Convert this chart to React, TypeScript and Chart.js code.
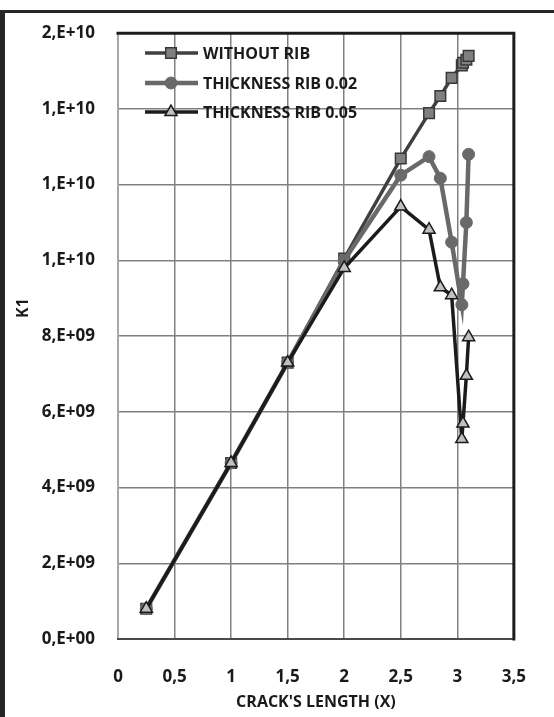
import React, { useEffect, useRef } from 'react';
import { Chart, registerables } from 'chart.js';

Chart.register(...registerables);

// ---- Data ----
const xValues = [0.25, 1, 1.5, 2, 2.5, 2.75, 2.85, 2.95, 3.04, 3.05, 3.08, 3.1];
const withoutRib = [0.8e9, 4.65e9, 7.3e9, 10.05e9, 12.69e9, 13.89e9, 14.34e9, 14.82e9, 15.15e9, 15.22e9, 15.3e9, 15.4e9];
const rib002 = [0.8e9, 4.65e9, 7.3e9, 10.0e9, 12.25e9, 12.74e9, 12.17e9, 10.48e9, 8.83e9, 9.38e9, 11.0e9, 12.8e9];
const rib005 = [0.8e9, 4.65e9, 7.3e9, 9.8e9, 11.42e9, 10.81e9, 9.29e9, 9.08e9, 5.28e9, 5.69e9, 6.95e9, 7.97e9];
const seriesNames = ['WITHOUT RIB', 'THICKNESS RIB 0.02', 'THICKNESS RIB 0.05'];
const xAxisTitle = "CRACK'S LENGTH (X)";
const yAxisTitle = 'K1';
const xMin = 0, xMax = 3.5, xStep = 0.5;
const yMin = 0, yMax = 1.6e10, yStep = 2e9;

const FONT = '"Open Sans", "DejaVu Sans", sans-serif';
const TEXT = '#1a1a1a';

function excelSci(v: number): string {
  if (v === 0) return '0,E+00';
  let e = Math.floor(Math.log10(Math.abs(v)) + 1e-9);
  let m = Math.round(v / Math.pow(10, e));
  if (m >= 10) { m = 1; e++; }
  return `${m},E${e >= 0 ? '+' : '-'}${String(Math.abs(e)).padStart(2, '0')}`;
}

function toPoints(ys: number[]) {
  return xValues.map((x, i) => ({ x, y: ys[i] }));
}

function drawMarker(ctx: CanvasRenderingContext2D, style: string, x: number, y: number, r: number, fill: string, stroke: string, lw: number) {
  ctx.save();
  ctx.beginPath();
  if (style === 'rect') {
    const s = Math.SQRT1_2 * r;
    ctx.rect(x - s, y - s, 2 * s, 2 * s);
  } else if (style === 'circle') {
    ctx.arc(x, y, r, 0, Math.PI * 2);
  } else {
    const a = -Math.PI / 2;
    for (let k = 0; k < 3; k++) {
      const ang = a + (k * 2 * Math.PI) / 3;
      const px = x + Math.cos(ang) * r;
      const py = y + Math.sin(ang) * r;
      if (k === 0) ctx.moveTo(px, py); else ctx.lineTo(px, py);
    }
    ctx.closePath();
  }
  ctx.fillStyle = fill;
  ctx.fill();
  ctx.lineWidth = lw;
  ctx.strokeStyle = stroke;
  ctx.stroke();
  ctx.restore();
}

const plotFramePlugin = {
  id: 'plotFrame',
  beforeDatasetsDraw(chart: any) {
    const { ctx, chartArea: a } = chart;
    ctx.save();
    ctx.lineCap = 'square';
    ctx.strokeStyle = '#a8a8a8';
    ctx.lineWidth = 2;
    ctx.beginPath(); ctx.moveTo(a.left, a.top); ctx.lineTo(a.left, a.bottom); ctx.stroke();
    ctx.strokeStyle = '#4a4a4a';
    ctx.lineWidth = 2;
    ctx.beginPath(); ctx.moveTo(a.left, a.bottom); ctx.lineTo(a.right, a.bottom); ctx.stroke();
    ctx.strokeStyle = '#1c1c1c';
    ctx.lineWidth = 3;
    ctx.beginPath(); ctx.moveTo(a.left, a.top); ctx.lineTo(a.right, a.top); ctx.lineTo(a.right, a.bottom); ctx.stroke();
    ctx.restore();
  },
};

const legendPlugin = {
  id: 'customLegend',
  afterDatasetsDraw(chart: any) {
    const { ctx } = chart;
    const rows = [53, 83, 112];
    const dsets = chart.data.datasets;
    ctx.save();
    dsets.forEach((ds: any, i: number) => {
      const y = rows[i];
      ctx.beginPath();
      ctx.strokeStyle = ds.borderColor;
      ctx.lineWidth = ds.borderWidth;
      ctx.moveTo(145, y);
      ctx.lineTo(198, y);
      ctx.stroke();
      drawMarker(ctx, ds.pointStyle, 171, y, ds.pointRadius, ds.pointBackgroundColor, ds.pointBorderColor, ds.pointBorderWidth);
      ctx.font = `bold 16px ${FONT}`;
      ctx.fillStyle = TEXT;
      ctx.textAlign = 'left';
      ctx.textBaseline = 'middle';
      ctx.fillText(ds.label, 203, y + 1);
    });
    // Y axis title
    ctx.translate(23, 308);
    ctx.rotate(-Math.PI / 2);
    ctx.font = `bold 16px ${FONT}`;
    ctx.fillStyle = TEXT;
    ctx.textAlign = 'center';
    ctx.textBaseline = 'middle';
    ctx.fillText(yAxisTitle, 0, 0);
    ctx.restore();
  },
};

export default function App() {
  const ref = useRef<HTMLCanvasElement>(null);

  useEffect(() => {
    if (!ref.current) return;
    const chart = new Chart(ref.current, {
      type: 'scatter',
      data: {
        datasets: [
          {
            label: seriesNames[0],
            data: toPoints(withoutRib),
            showLine: true,
            borderColor: '#404040',
            borderWidth: 3.5,
            pointStyle: 'rect',
            pointRadius: 7.5,
            pointHoverRadius: 7.5,
            pointBackgroundColor: '#808080',
            pointBorderColor: '#383838',
            pointBorderWidth: 1.5,
            order: 3,
          },
          {
            label: seriesNames[1],
            data: toPoints(rib002),
            showLine: true,
            borderColor: '#696969',
            borderWidth: 4.5,
            pointStyle: 'circle',
            pointRadius: 6,
            pointHoverRadius: 6,
            pointBackgroundColor: '#696969',
            pointBorderColor: '#696969',
            pointBorderWidth: 1,
            order: 2,
          },
          {
            label: seriesNames[2],
            data: toPoints(rib005),
            showLine: true,
            borderColor: '#1e1a1b',
            borderWidth: 3.5,
            pointStyle: 'triangle',
            pointRadius: 7,
            pointHoverRadius: 7,
            pointBackgroundColor: '#c0c0c0',
            pointBorderColor: '#1e1a1b',
            pointBorderWidth: 1.5,
            order: 1,
          },
        ] as any,
      },
      options: {
        responsive: false,
        animation: false,
        devicePixelRatio: 1,
        layout: { padding: { left: 0, top: 31, right: 19, bottom: 0 } },
        plugins: {
          legend: { display: false },
          tooltip: { enabled: false },
        },
        elements: { line: { tension: 0 } },
        scales: {
          x: {
            type: 'linear',
            min: xMin,
            max: xMax,
            border: { display: false },
            grid: { color: '#808080', lineWidth: 1.5, drawTicks: false },
            ticks: {
              stepSize: xStep,
              padding: 28,
              color: TEXT,
              font: { family: FONT, size: 17, weight: 'bold' },
              maxRotation: 0,
              autoSkip: false,
              callback: (v: any) => String(v).replace('.', ','),
            },
            title: {
              display: true,
              text: xAxisTitle,
              color: TEXT,
              font: { family: FONT, size: 16, weight: 'bold' },
              padding: { top: 0, bottom: 5 },
            },
            afterFit: (s: any) => { s.height = 78; },
          },
          y: {
            type: 'linear',
            min: yMin,
            max: yMax,
            border: { display: false },
            grid: { color: '#808080', lineWidth: 1.5, drawTicks: false },
            ticks: {
              stepSize: yStep,
              padding: 23,
              color: TEXT,
              font: { family: FONT, size: 17, weight: 'bold' },
              autoSkip: false,
              callback: (v: any) => excelSci(Number(v)),
            },
            afterFit: (s: any) => { s.width = 118; },
          },
        },
      } as any,
      plugins: [plotFramePlugin, legendPlugin],
    });
    return () => chart.destroy();
  }, []);

  return (
    <div style={{ position: 'fixed', left: 0, top: 0, width: 554, height: 717, background: '#ffffff', overflow: 'hidden' }}>
      <div
        style={{
          position: 'absolute', left: 0, top: 10, right: 0, bottom: 0,
          borderTop: '3px solid #262626', borderLeft: '5px solid #262626',
        }}
      />
      <canvas ref={ref} width={554} height={717} style={{ position: 'absolute', left: 0, top: 0, width: 554, height: 717 }} />
    </div>
  );
}
